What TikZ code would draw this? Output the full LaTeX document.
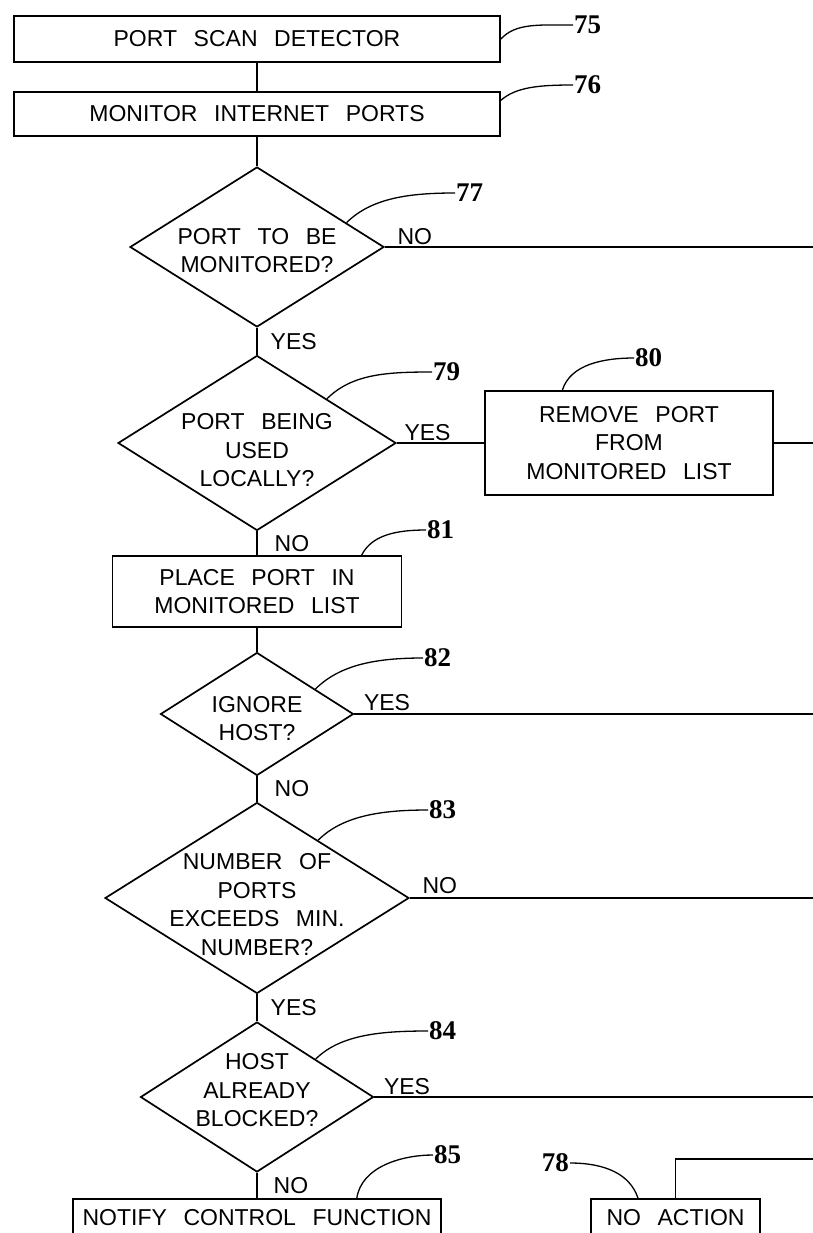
\documentclass[tikz,border=0pt]{standalone}
\usepackage{fontspec}
\setmainfont{Liberation Sans}[WordSpace=2.6]
\newfontfamily\refnumfont{Liberation Serif}
\usetikzlibrary{shapes,calc,positioning}

\begin{document}
\begin{tikzpicture}[x=1pt,y=-1pt,
        every node/.style={font=\fontsize{23}{28.5}\selectfont},
        stepbox/.style={draw,line width=1.7pt,inner xsep=0pt,inner ysep=0pt,align=center},
        query/.style={draw,diamond,line width=1.7pt,inner sep=-40pt,align=center},
        yesno/.style={inner sep=0pt},
        refnum/.style={font=\refnumfont\bfseries\fontsize{27}{27}\selectfont,inner sep=1pt},
        leader/.style={line width=1.3pt},
        flow/.style={line width=1.4pt}]
        \clip (0,0) rectangle (813,1233);
        \coordinate (rim) at (813,0);

        % steps and questions
        \node[stepbox,minimum width=486pt,minimum height=46pt] (b75) at (257,39) {PORT SCAN DETECTOR};
        \node[stepbox,minimum width=486pt,minimum height=44pt] (b76) at (257,114) {MONITOR INTERNET PORTS};
        \node[query,minimum width=254pt,minimum height=160pt,text height=51.5pt] (d77) at (257,247) {PORT TO BE\\MONITORED?};
        \node[query,minimum width=278pt,minimum height=175pt,text height=88pt] (d79) at (257,443) {PORT BEING\\USED\\LOCALLY?};
        \node[stepbox,minimum width=288pt,minimum height=104pt] (b80) at (629,443) {REMOVE PORT\\FROM\\MONITORED LIST};
        \node[stepbox,minimum width=289pt,minimum height=71pt] (b81) at (257,591.5) {PLACE PORT IN\\MONITORED LIST};
        \node[query,minimum width=193pt,minimum height=123pt,text height=53.5pt] (d82) at (257,714) {IGNORE\\HOST?};
        \node[query,minimum width=304pt,minimum height=191pt,text height=114.5pt] (d83) at (257,898) {NUMBER OF\\PORTS\\EXCEEDS MIN.\\NUMBER?};
        \node[query,minimum width=233pt,minimum height=150pt,text depth=14pt] (d84) at (257,1097) {HOST\\ALREADY\\BLOCKED?};
        \node[stepbox,anchor=north,minimum width=368pt,inner ysep=10pt,text height=17pt,text depth=45pt] (b85) at (257,1198) {NOTIFY CONTROL FUNCTION};
        \node[stepbox,anchor=north,minimum width=169pt,inner ysep=10pt,text height=17pt,text depth=45pt] (b78) at (675.5,1198) {NO ACTION};
        \coordinate (r78) at (813,1159);

        % flow down the column
        \draw[flow] (b75) -- (b76);
        \draw[flow] (b76) -- (d77);
        \draw[flow] (d77) -- node[yesno,right=13pt]{YES} (d79);
        \draw[flow] (d79) -- node[yesno,right=17pt]{NO} (b81);
        \draw[flow] (b81) -- (d82);
        \draw[flow] (d82) -- node[yesno,right=17pt]{NO} (d83);
        \draw[flow] (d83) -- node[yesno,right=13pt]{YES} (d84);
        \draw[flow] (d84) -- node[yesno,right=16pt]{NO} (b85);

        % branches off to the right
        \draw[flow] (d77.east) -- node[yesno,pos=0,anchor=south west,xshift=12pt,yshift=2pt]{NO} (d77.east -| rim);
        \draw[flow] (d79.east) -- node[yesno,pos=0,anchor=south west,xshift=7pt,yshift=2pt]{YES} (b80.west);
        \draw[flow] (b80.east) -- (b80.east -| rim);
        \draw[flow] (d82.east) -- node[yesno,pos=0,anchor=south west,xshift=9pt,yshift=3pt]{YES} (d82.east -| rim);
        \draw[flow] (d83.east) -- node[yesno,pos=0,anchor=south west,xshift=12pt,yshift=4pt]{NO} (d83.east -| rim);
        \draw[flow] (d84.east) -- node[yesno,pos=0,anchor=south west,xshift=9pt,yshift=2pt]{YES} (d84.east -| rim);
        \draw[flow] (b78.north) |- (r78);

        % reference numerals
        \node[refnum,anchor=west] (l75) at (573,25) {75};
        \node[refnum,anchor=west] (l76) at (573,85) {76};
        \node[refnum,anchor=west] (l77) at (455,193) {77};
        \node[refnum,anchor=west] (l79) at (432,372) {79};
        \node[refnum,anchor=west] (l80) at (634,358) {80};
        \node[refnum,anchor=west] (l81) at (426,530) {81};
        \node[refnum,anchor=west] (l82) at (423,658) {82};
        \node[refnum,anchor=west] (l83) at (428,810) {83};
        \node[refnum,anchor=west] (l84) at (428,1031) {84};
        \node[refnum,anchor=west] (l85) at (433,1155) {85};
        \node[refnum,anchor=east] (l78) at (570,1163) {78};

        \draw[leader] (b75.east) .. controls +(15,-16) and +(-35,0) .. (l75.west);
        \draw[leader] ($(b76.north east)!0.2!(b76.south east)$) .. controls +(15,-13) and +(-35,0) .. (l76.west);
        \draw[leader] ($(d77.north)!0.7!(d77.east)$) .. controls +(25,-25) and +(-45,0) .. (l77.west);
        \draw[leader] (d79.north east) .. controls +(25,-25) and +(-45,0) .. (l79.west);
        \draw[leader] ($(b80.north west)!0.27!(b80.north east)$) .. controls +(8,-26) and +(-30,0) .. (l80.west);
        \draw[leader] ($(b81.north west)!0.86!(b81.north east)$) .. controls +(10,-20) and +(-30,0) .. (l81.west);
        \draw[leader] ($(d82.north)!0.6!(d82.east)$) .. controls +(25,-25) and +(-45,0) .. (l82.west);
        \draw[leader] ($(d83.north)!0.4!(d83.east)$) .. controls +(25,-25) and +(-45,0) .. (l83.west);
        \draw[leader] (d84.north east) .. controls +(25,-25) and +(-45,0) .. (l84.west);
        \draw[leader] ($(b85.north west)!0.77!(b85.north east)$) .. controls +(5,-32) and +(-30,0) .. (l85.west);
        \draw[leader] (l78.east) .. controls +(35,0) and +(-8,-24) .. ($(b78.north west)!0.28!(b78.north east)$);
\end{tikzpicture}
\end{document}
